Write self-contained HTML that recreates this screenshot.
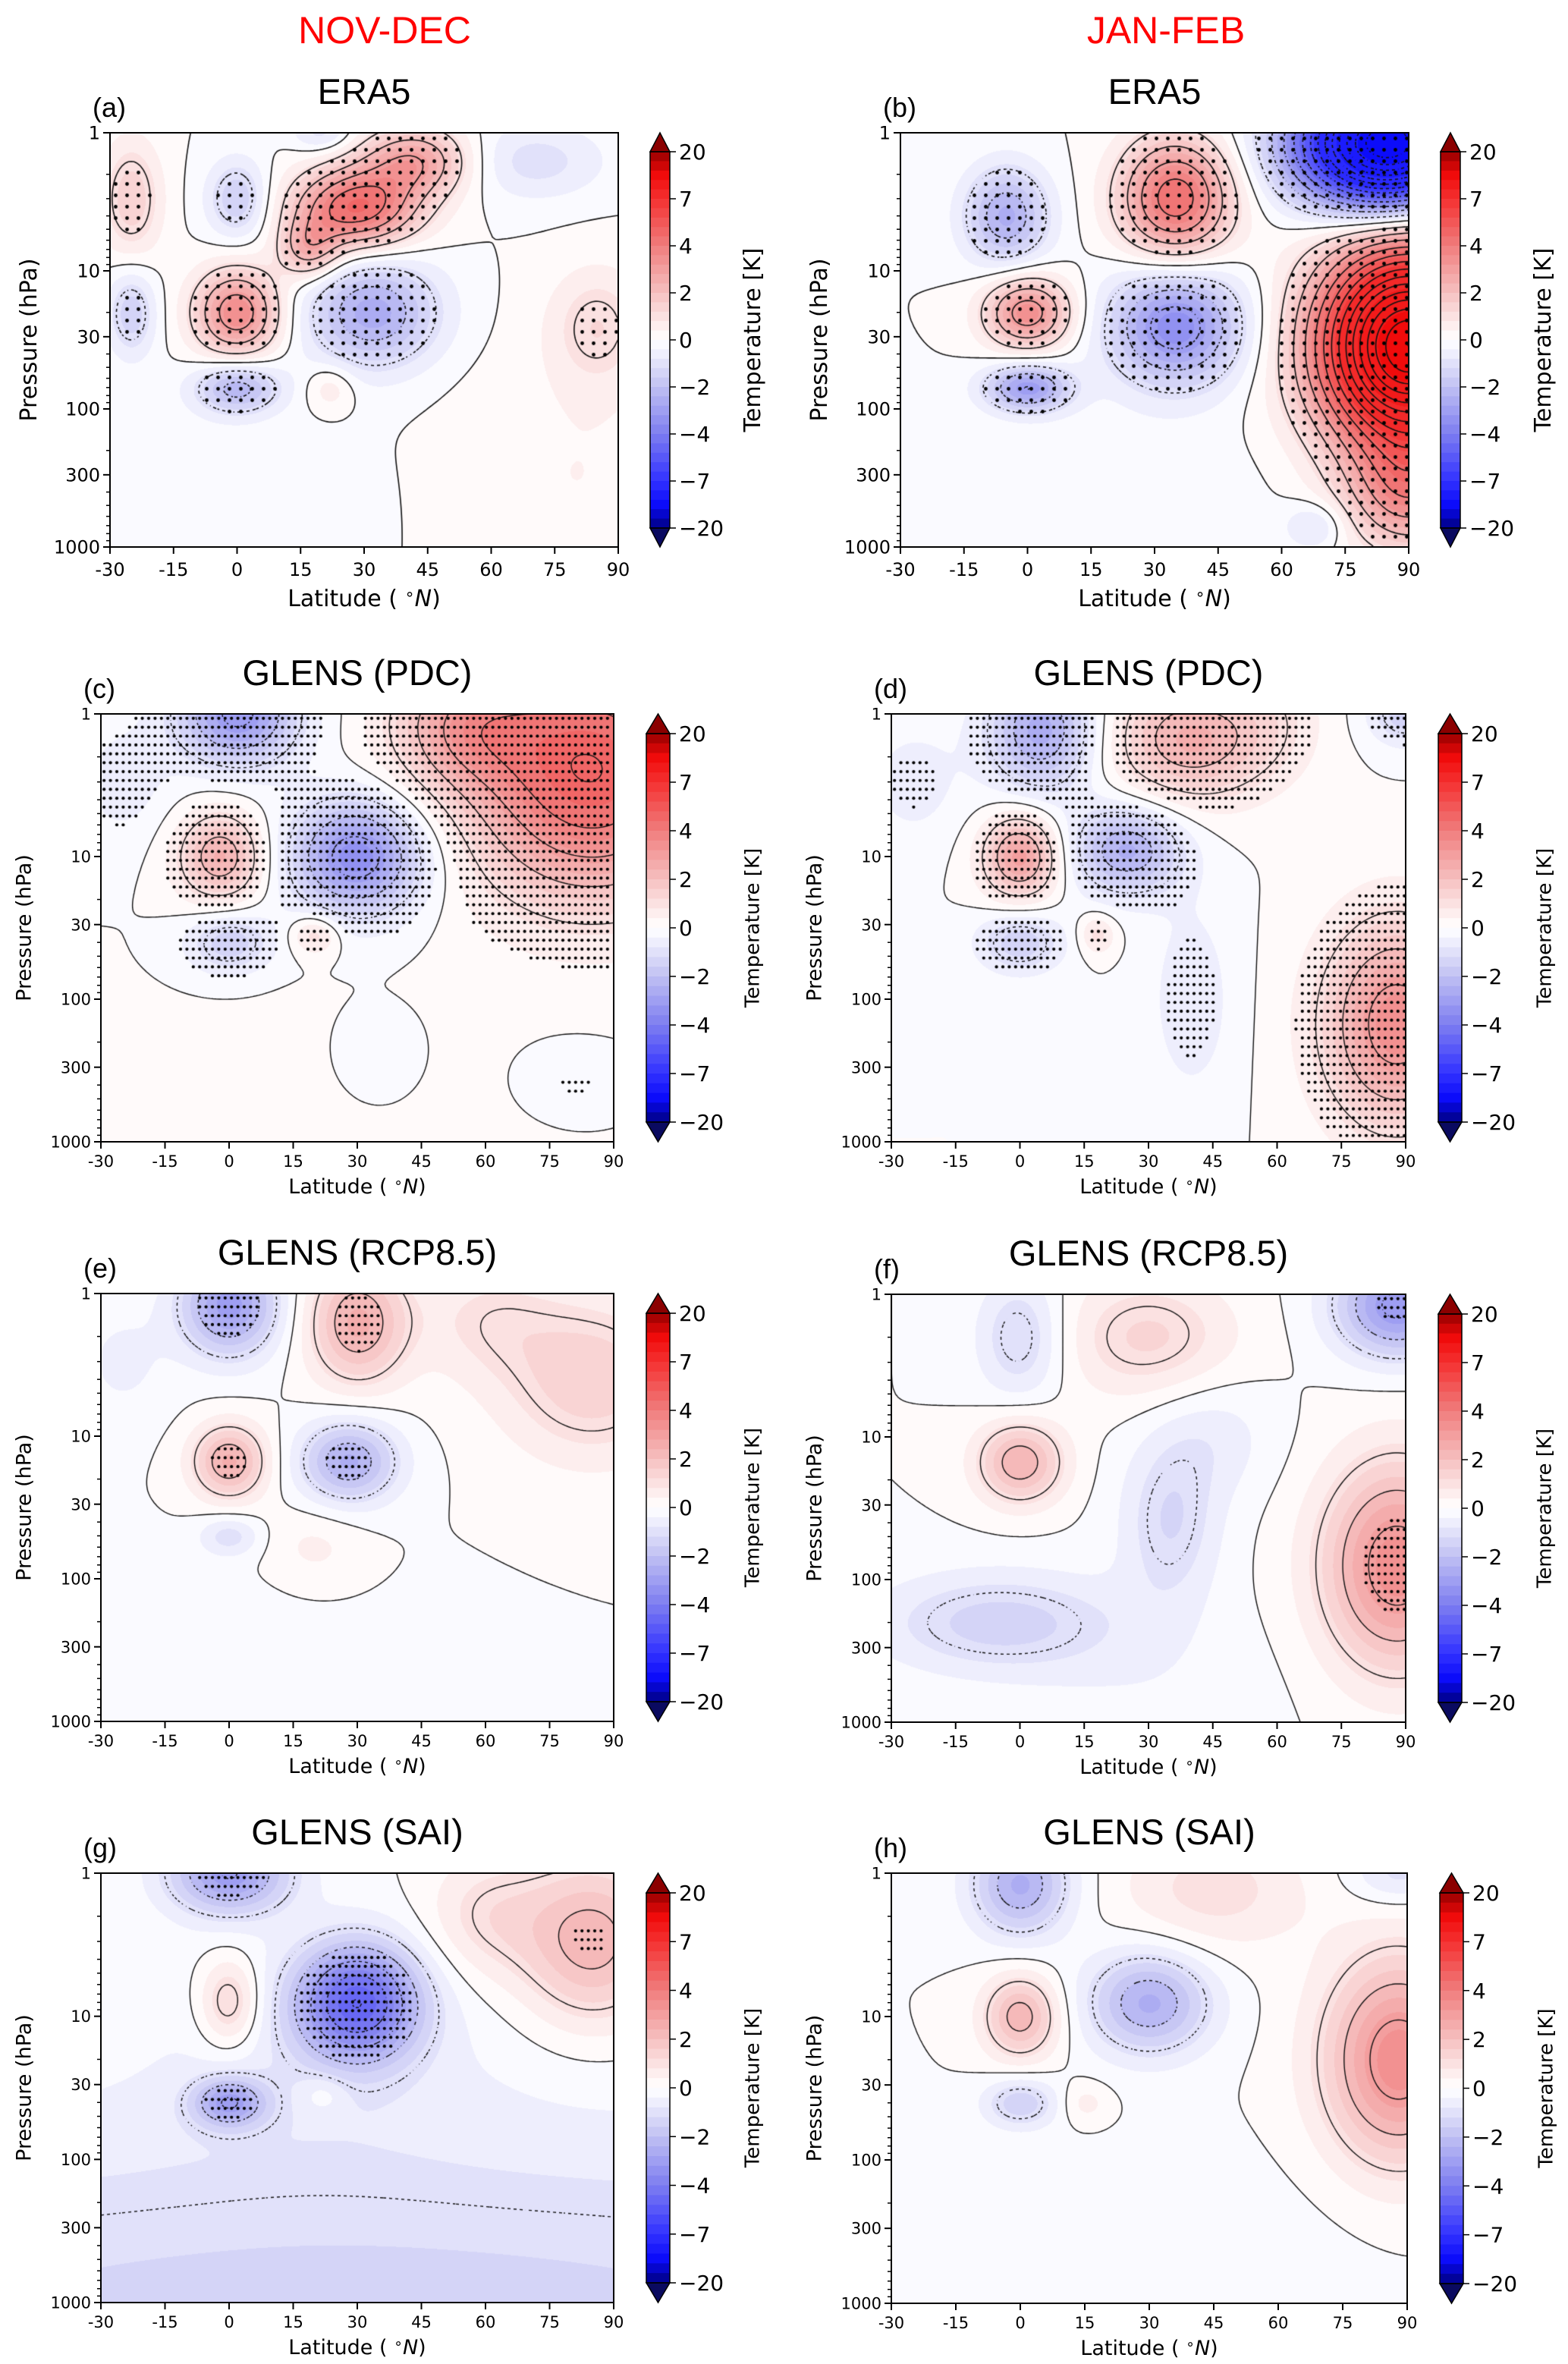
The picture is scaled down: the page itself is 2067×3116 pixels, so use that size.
<!DOCTYPE html>
<html><head><meta charset="utf-8"><title>Temperature anomaly panels</title>
<style>
html,body{margin:0;padding:0;background:#fff;}
#wrap{position:relative;width:2067px;height:3116px;overflow:hidden;}
#cv,#ov{position:absolute;left:0;top:0;}
text{font-family:"DejaVu Sans","Liberation Sans",sans-serif;fill:#000;}
.ttl{font-family:"Liberation Sans",sans-serif;}
</style></head>
<body>
<div id="wrap">
<canvas id="cv" width="2067" height="3116"></canvas>
<svg id="ov" width="2067" height="3116" xmlns="http://www.w3.org/2000/svg"></svg>
</div>
<script>
// ---- data: Gaussian anomaly components per panel (lat °N, pressure hPa, amplitude K, lat width, log-p width)
const aLat=[0,0,0,28,42,32,-25,-25,20,70,85,22,-10,80,17];
const aP=[20,70,3,3.5,1.6,20,3,20,1,1.6,25,70,500,300,7];
const aAmp=[3.6,-2.3,-1.6,4.6,2.8,-2.6,1.5,-1.5,-1,-1,1.1,0.8,-0.3,0.4,2.2];
const aSL=[7,7,5,10,9,11,5,4,5,12,8,4,25,20,5];
const aSZ=[0.22,0.13,0.2,0.2,0.18,0.28,0.3,0.22,0.1,0.2,0.3,0.12,0.5,0.7,0.15];

const bLat=[90,85,35,-5,0,0,35,68,20,90];
const bP=[35,1.2,3,4,20,70,25,700,500,400];
const bAmp=[14,-14,4.5,-2.5,3.5,-3,-3.5,-1,-0.3,3];
const bSL=[14,14,9,7,7,7,11,5,25,10];
const bSZ=[0.48,0.3,0.3,0.25,0.18,0.12,0.3,0.12,0.5,0.3];

const cLat=[2,85,55,-2,30,0,20,35,80,-25,30];
const cP=[1,2.5,1.2,10,10,40,35,300,400,3,800];
const cAmp=[-3.2,5,2.2,2.5,-3.5,-1.5,1.2,-0.5,-0.5,-0.6,0.3];
const cSL=[10,20,12,7,11,7,4,8,10,8,40];
const cSZ=[0.25,0.6,0.3,0.22,0.28,0.15,0.1,0.25,0.2,0.3,0.5];

const dLat=[5,40,0,25,0,18,88,40,90,60,-25];
const dP=[1.3,1.5,10,9,40,35,150,100,1,1,3];
const dAmp=[-2.6,2.5,3,-2.5,-1.5,1,3.5,-0.7,-1.5,0.5,-0.6];
const dSL=[9,13,6,9,7,3,12,7,6,8,8];
const dSZ=[0.3,0.3,0.2,0.22,0.15,0.1,0.5,0.5,0.15,0.3,0.3];

const eLat=[0,30,85,0,28,0,20,60,-25,-10];
const eP=[1.2,1.6,4,15,15,50,60,1.5,3,300];
const eAmp=[-3,2.5,1.5,2.5,-2.5,-1,0.5,0.8,-0.5,-0.2];
const eSL=[8,8,15,6,8,5,8,12,8,30];
const eSZ=[0.25,0.3,0.4,0.18,0.2,0.1,0.2,0.3,0.3,0.4];

const fLat=[0,30,88,0,35,88,-5,45,30];
const fP=[2,2,1.2,15,40,80,200,10,600];
const fAmp=[-1.3,1.3,-3.2,2.4,-1.2,3.5,-1.4,-0.6,-0.3];
const fSL=[7,14,10,7,8,12,20,10,20];
const fSZ=[0.3,0.3,0.25,0.2,0.4,0.5,0.25,0.3,0.4];

const gLat=[0,30,0,0,22,85,60,30,20];
const gP=[1,8,8,40,35,3,2,1000,15];
const gAmp=[-3,-4.6,1.6,-2.5,0.6,2.3,1,-1.3,-0.4];
const gSL=[10,10,5,6,4,12,10,200,30];
const gSZ=[0.2,0.28,0.22,0.12,0.1,0.4,0.3,0.9,0.6];

const hLat=[0,45,0,30,0,15,88,88,30];
const hP=[1.2,1.3,10,8,40,40,20,1,500];
const hAmp=[-2.5,1,2.3,-2.5,-1.5,0.6,3.5,-1,-0.25];
const hSL=[8,15,6,10,6,4,12,8,40];
const hSZ=[0.25,0.3,0.2,0.25,0.12,0.1,0.5,0.15,0.5];

const stippleThr=[1.0,1.0,0.35,0.5,2.0,2.8,2.2,99];
const panelTitles=["ERA5","ERA5","GLENS (PDC)","GLENS (PDC)","GLENS (RCP8.5)","GLENS (RCP8.5)","GLENS (SAI)","GLENS (SAI)"];
const panelTags=["(a)","(b)","(c)","(d)","(e)","(f)","(g)","(h)"];
const latTicks=[-30,-15,0,15,30,45,60,75,90];
const pTicks=[1,10,30,100,300,1000];
const cbTicks=[20,7,4,2,0,-2,-4,-7,-20];
const cbTickText=["20","7","4","2","0","\u22122","\u22124","\u22127","\u221220"];
const colHeads=["NOV-DEC","JAN-FEB"];

const comps=[[aLat,aP,aAmp,aSL,aSZ],[bLat,bP,bAmp,bSL,bSZ],[cLat,cP,cAmp,cSL,cSZ],[dLat,dP,dAmp,dSL,dSZ],
[eLat,eP,eAmp,eSL,eSZ],[fLat,fP,fAmp,fSL,fSZ],[gLat,gP,gAmp,gSL,gSZ],[hLat,hP,hAmp,hSL,hSZ]];

// ---- layout
const layout=[
 {x0:145,x1:815,y0:175,y1:721,cb:857,big:1},
 {x0:1187,x1:1857,y0:175,y1:721,cb:1899,big:1},
 {x0:133,x1:809,y0:941,y1:1505,cb:852,big:0},
 {x0:1175,x1:1853,y0:941,y1:1505,cb:1896,big:0},
 {x0:133,x1:809,y0:1705,y1:2269,cb:852,big:0},
 {x0:1175,x1:1853,y0:1706,y1:2270,cb:1896,big:0},
 {x0:133,x1:809,y0:2469,y1:3035,cb:852,big:0},
 {x0:1175,x1:1855,y0:2469,y1:3036,cb:1898,big:0}
];

// ---- colour mapping
const cbVals=[-20,-7,-4,-2,0,2,4,7,20];
function toT(v){
  if(v<=-20)return -1; if(v>=20)return 1;
  for(let i=0;i<8;i++){if(v<=cbVals[i+1]){return -1+0.25*(i+(v-cbVals[i])/(cbVals[i+1]-cbVals[i]));}}
  return 1;
}
const stopT=[-1,-0.88,-0.75,-0.5,-0.25,-0.03,0.03,0.25,0.5,0.75,0.88,1];
const stopC=[[0,0,130],[10,10,250],[50,50,255],[125,125,240],[192,192,243],[250,250,255],[255,250,250],[246,192,192],[240,125,125],[244,48,48],[240,10,10],[150,0,0]];
function tCol(t){
  for(let i=0;i<stopT.length-1;i++){if(t<=stopT[i+1]){const f=(t-stopT[i])/(stopT[i+1]-stopT[i]);const a=stopC[i],b=stopC[i+1];return [a[0]+(b[0]-a[0])*f,a[1]+(b[1]-a[1])*f,a[2]+(b[2]-a[2])*f];}}
  return stopC[stopC.length-1];
}
function vCol(v){let t=toT(v);t=(Math.floor(t*20)+0.5)/20;if(t>1)t=0.975;if(t<-1)t=-0.975;return tCol(t);}

function fieldAt(k,lat,z){
  const C=comps[k];let s=0;
  for(let i=0;i<C[0].length;i++){
    const dl=(lat-C[0][i])/C[3][i], dz=(z-Math.log10(C[1][i]))/C[4][i];
    s+=C[2][i]*Math.exp(-0.5*(dl*dl+dz*dz));
  }
  return s;
}

const cv=document.getElementById('cv');const ctx=cv.getContext('2d');
layout.forEach((L,k)=>{
  const w=L.x1-L.x0,h=L.y1-L.y0;
  const img=ctx.createImageData(w,h);
  for(let j=0;j<h;j++){const z=j/h*3;for(let i=0;i<w;i++){const lat=-30+i/w*120;const c=vCol(fieldAt(k,lat,z));const o=(j*w+i)*4;img.data[o]=c[0];img.data[o+1]=c[1];img.data[o+2]=c[2];img.data[o+3]=255;}}
  ctx.putImageData(img,L.x0,L.y0);
  // contours via marching squares
  const st=4,nx=Math.ceil(w/st)+1,nz=Math.ceil(h/st)+1;
  const g=[];for(let j=0;j<nz;j++){const r=[];for(let i=0;i<nx;i++){r.push(fieldAt(k,-30+Math.min(i*st,w)/w*120,Math.min(j*st,h)/h*3));}g.push(r);}
  ctx.save();ctx.beginPath();ctx.rect(L.x0,L.y0,w,h);ctx.clip();
  ctx.strokeStyle='#111';ctx.lineWidth=L.big?1.6:1.4;
  for(let lev=-14;lev<=14;lev++){
    ctx.beginPath();
    for(let j=0;j<nz-1;j++)for(let i=0;i<nx-1;i++){
      if(lev<0&&((i+j)&1))continue;
      const v=[g[j][i],g[j][i+1],g[j+1][i+1],g[j+1][i]];
      const px=[i*st,(i+1)*st,(i+1)*st,i*st],py=[j*st,j*st,(j+1)*st,(j+1)*st];
      const pts=[];
      for(let e=0;e<4;e++){const a=v[e],b=v[(e+1)%4];if((a<lev)!==(b<lev)){const f=(lev-a)/(b-a);pts.push([px[e]+(px[(e+1)%4]-px[e])*f,py[e]+(py[(e+1)%4]-py[e])*f]);}}
      for(let q=0;q+1<pts.length;q+=2){ctx.moveTo(L.x0+pts[q][0],L.y0+pts[q][1]);ctx.lineTo(L.x0+pts[q+1][0],L.y0+pts[q+1][1]);}
    }
    ctx.stroke();
  }
  // stippling
  const sx=L.big?15:8.4, sy=L.big?15:11.7, r=L.big?2.4:2.1;
  ctx.fillStyle='#000';
  for(let y=L.y0+sy/2;y<L.y1;y+=sy)for(let x=L.x0+sx/2;x<L.x1;x+=sx){
    const v=fieldAt(k,-30+(x-L.x0)/w*120,(y-L.y0)/h*3);
    if(Math.abs(v)>stippleThr[k]){ctx.beginPath();ctx.arc(x,y,r,0,6.2832);ctx.fill();}
  }
  ctx.restore();
});

// ---- SVG overlay
const NS='http://www.w3.org/2000/svg';const svg=document.getElementById('ov');
function mk(tag,attrs,parent){const e=document.createElementNS(NS,tag);for(const a in attrs)e.setAttribute(a,attrs[a]);(parent||svg).appendChild(e);return e;}
function txt(s,attrs,parent){const e=mk('text',attrs,parent);e.textContent=s;return e;}

colHeads.forEach((s,c)=>{
  const t=txt(s,{x:c?1537:507,y:57,'text-anchor':'middle','font-size':50,class:'ttl',style:'fill:#ff0000'});
  
  
});

layout.forEach((L,k)=>{
  const w=L.x1-L.x0,h=L.y1-L.y0;
  const xs=lat=>L.x0+(lat+30)/120*w;
  const ys=p=>L.y0+Math.log10(p)/3*h;
  const G=mk('g',{});
  
  
  const tsz=L.big?24:21, lsz=L.big?30:27;
  const t1=txt(panelTitles[k],{x:(L.x0+L.x1)/2,y:L.y0-38,'text-anchor':'middle','font-size':47,class:'ttl'},G);
  
  
  const t2=txt(panelTags[k],{x:L.x0-23,y:L.y0-21,'font-size':36,class:'ttl'},G);
  
  
  const fr=mk('rect',{x:L.x0,y:L.y0,width:w,height:h,fill:'none',stroke:'#000','stroke-width':2},G);
  
  
  latTicks.forEach(v=>{
    const x=xs(v);
    const tk=mk('line',{x1:x,y1:L.y1,x2:x,y2:L.y1+9,stroke:'#000','stroke-width':2},G);
    
    
    const tl=txt(String(v),{x:x,y:L.y1+(L.big?38:33),'text-anchor':'middle','font-size':tsz},G);
    
    
  });
  pTicks.forEach(v=>{
    const y=ys(v);
    const tk=mk('line',{x1:L.x0-9,y1:y,x2:L.x0,y2:y,stroke:'#000','stroke-width':2},G);
    
    
    const tl=txt(String(v),{x:L.x0-13,y:y+tsz*0.36,'text-anchor':'end','font-size':tsz},G);
    
    
  });
  for(let d=0;d<3;d++)for(let m=2;m<=9;m++){
    const p=m*Math.pow(10,d);if(pTicks.indexOf(p)>=0)continue;
    const y=ys(p);
    const mt=mk('line',{x1:L.x0-5,y1:y,x2:L.x0,y2:y,stroke:'#000','stroke-width':1.5},G);
    
    
  }
  const xl=mk('text',{x:(L.x0+L.x1)/2,y:L.y1+(L.big?78:68),'text-anchor':'middle','font-size':lsz},G);
  xl.innerHTML='Latitude ( <tspan font-size="'+(lsz*0.7)+'" dy="-'+(lsz*0.3)+'">\u2218</tspan><tspan dy="'+(lsz*0.3)+'" font-style="italic">N</tspan>)';
  
  
  const ycx=L.x0-(L.big?108:102);
  const yl=txt('Pressure (hPa)',{x:0,y:0,'text-anchor':'middle','font-size':lsz,transform:'translate('+(ycx+lsz*0.36)+','+(L.y0+h/2)+') rotate(-90)'},G);
  
  
  const CB=mk('g',{},G);
  
  
  const cw=L.big?25:26, bw=L.big?26:31, bx=L.cb, top=L.y0+cw, bot=L.y1-cw, bh=bot-top;
  const nb=40;
  for(let b=0;b<nb;b++){
    const t=1-(b+0.5)/nb*2;const c=tCol(t);
    const r=mk('rect',{x:bx,y:top+b*bh/nb,width:bw,height:bh/nb+0.6,fill:'rgb('+c.map(Math.round).join(',')+')'},CB);
    
    
  }
  const up=mk('polygon',{points:bx+','+top+' '+(bx+bw)+','+top+' '+(bx+bw/2)+','+L.y0,fill:'#8b0000',stroke:'#000','stroke-width':1.5},CB);
  
  
  const dn=mk('polygon',{points:bx+','+bot+' '+(bx+bw)+','+bot+' '+(bx+bw/2)+','+L.y1,fill:'#0a0a60',stroke:'#000','stroke-width':1.5},CB);
  
  
  mk('rect',{x:bx,y:top,width:bw,height:bh,fill:'none',stroke:'#000','stroke-width':1.5},CB);
  cbTicks.forEach((v,i)=>{
    const y=top+(1-(toT(v)+1)/2)*bh;
    const tk=mk('line',{x1:bx+bw,y1:y,x2:bx+bw+8,y2:y,stroke:'#000','stroke-width':1.5},CB);
    
    
    const tl=txt(cbTickText[i],{x:bx+bw+12,y:y+10,'font-size':28},CB);
    
    
  });
  const cfs=L.big?30:26;
  const cl=txt('Temperature [K]',{x:0,y:0,'text-anchor':'middle','font-size':cfs,transform:'translate('+(bx+bw+108+cfs*0.36)+','+(L.y0+h/2)+') rotate(-90)'},CB);
  
  
});
</script>
</body></html>
